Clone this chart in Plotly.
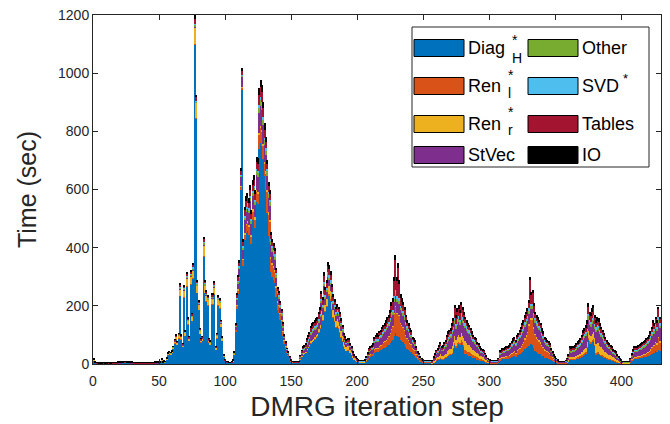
import plotly.graph_objects as go

# DMRG iteration steps
steps = list(range(1, 430))

# ---------------- series values (sec) ----------------
diag_h = (
    # steps 1-54
    [13.5, 3.5, 1.5, 1.5, 0.5, 0.5, 0.5, 1.5, 0.5, 0.5, 0.5, 1.5, 0.5, 0.5, 1.5, 1.5, 1.5, 1.5, 2.5,
     2.5, 2.5, 3.5, 3.5, 4.5, 4.5, 3.5, 3.5, 2.5, 2.5, 2.5,
     1.5, 1.5, 1.5, 1.5, 1.5, 1.5, 1.5, 1.5, 1.5, 1.5, 1.5, 1.5, 1.5, 1.5, 1.5, 1.5, 2.5, 2.5, 2.5, 2.5,
     3.5, 13.5, 3.5, 5.5]
    # steps 55-100
    + [6.8, 16.9, 32.1, 35.5, 33.8, 38, 52.4, 71.8, 84.5, 65.9, 88.7, 234, 84.5, 59.2, 229.8,
       97.2, 267.9, 135.2, 80.3, 272.9, 147.9, 292.4, 1100, 845, 244.2, 185.9, 103.9, 74.4, 80.3, 370.1,
       244.2, 214.6, 200.3, 74.4, 67.6, 205.3, 205.3, 239.1, 50.7, 88.7, 200.3, 191, 127.6, 79.4, 25.4, 11.8]
    # steps 101-152
    + [6, 5, 3.5, 3.5, 5, 9.5, 32, 110, 190, 239, 279, 598, 942, 336, 426, 450, 458, 445, 480, 413,
       494, 507, 468, 556, 551, 740, 761, 749, 704, 645, 600, 520, 440, 420, 318, 300, 290, 279, 231, 186,
       175, 150, 130, 98, 70, 53, 38, 29, 17, 9, 6, 4.5]
    # steps 153-205
    + [5, 4, 4, 5, 16, 26, 33, 36, 39, 48, 55, 61, 72, 77, 80, 85, 90, 95, 108, 122,
       165, 150, 215, 180, 198, 245, 236, 220, 186, 160, 146, 126, 130, 122, 108, 92, 77, 60, 52, 45,
       48, 48, 38, 32, 22, 16, 13, 10, 7, 6, 6, 6, 6]
    # steps 206-256
    + [5.5, 10, 16, 22, 24, 26, 28, 38, 40, 42, 40, 45, 47, 51, 54, 56, 60, 64, 66, 72,
       80, 84, 98, 105, 95, 98, 92, 82, 78, 74, 68, 59, 53, 49, 43, 41, 33, 31, 29, 21,
       15, 13, 9, 7, 5, 4.5, 4.5, 4.5, 4.5, 4.5, 4.5]
    # steps 257-306
    + [3, 6, 9, 12, 14, 16, 19, 15.5, 16, 19, 21, 25, 28, 30, 31, 35, 52, 66, 57, 65,
       70, 66, 75, 68, 60, 36, 33, 31, 29, 27, 25, 22, 21, 19, 17, 15.6, 13, 12, 11, 10.5,
       8, 6, 4.4, 3.7, 3, 2.6, 2.6, 2.6, 2.6, 2.6]
    # steps 307-358
    + [6, 13.5, 14.4, 15.6, 16, 17, 18, 18.6, 19.5, 21, 24, 26, 28, 25, 30, 32, 35, 38, 42, 45,
       50, 54, 57, 63, 71, 68, 65, 55, 45, 40, 38, 36, 33, 29, 26, 22, 21, 20, 18, 17,
       13, 10, 7.4, 6, 4.8, 3.4, 2.4, 2.2, 2.2, 2.2, 2.2, 3]
    # steps 359-406
    + [5, 7.8, 15, 14.5, 15, 15.5, 16, 17.8, 19.5, 21, 22, 25, 29, 31, 34, 55, 84, 72, 70, 76,
       80, 62, 33, 35, 35, 31, 28, 26, 23, 21, 18, 17, 15.6, 14.3, 13, 11, 10, 9.2, 6.8, 5.5,
       4.2, 3.1, 2.2, 2, 2, 2, 2, 2]
    # steps 407-429
    + [5.6, 10.4, 14, 16.8, 16.8, 17.4, 18.2, 19, 20, 21, 22.4, 23, 24.6, 26, 28, 31, 35, 40, 38, 43,
       40, 48, 43]
)

ren_l = (
    [0.2, 0.2, 0.2, 0.2, 0.2, 0.2, 0.2, 0.2, 0.2, 0.2, 0.2, 0.2, 0.2, 0.2, 0.2, 0.2, 0.2, 0.2,
     0.2, 0.2, 0.2, 0.2, 0.2, 0.2, 0.2, 0.2, 0.2, 0.2, 0.2, 0.2, 0.2, 0.2, 0.2, 0.2, 0.2, 0.2,
     0.2, 0.2, 0.2, 0.2, 0.2, 0.2, 0.2, 0.2, 0.2, 0.2, 0.2, 0.2, 0.2, 0.2, 0.2, 0.2, 0.2, 0.2]
    + [0.1, 0.1, 0.2, 0.2, 0.2, 0.2, 0.3, 0.4, 0.5, 0.4, 0.5, 1.4, 0.5, 0.4, 1.4, 0.6, 1.6, 0.8, 0.5, 1.6,
       0.9, 1.7, 0.5, 0.5, 1.4, 1.1, 0.6, 0.4, 0.5, 2.2, 1.4, 1.3, 1.2, 0.4, 0.4, 1.2, 1.2, 1.4, 0.3, 0.5,
       1.2, 1.1, 0.8, 0.5, 0.2, 0.1]
    + [0.5, 0.4, 0.3, 0.3, 0.4, 0.7, 2, 7, 12, 15, 18, 12, 10, 22, 20, 28, 30, 28, 30, 27,
       32, 33, 30, 36, 35, 47, 49, 48, 45, 41, 55, 70, 75, 70, 46, 43, 42, 40, 33, 27,
       25, 22, 19, 14, 10, 8, 5.5, 4, 2.5, 1.4, 1, 0.8]
    + [0.3, 0.2, 0.2, 0.3, 0.5, 0.6, 0.7, 0.8, 0.8, 1, 1, 1, 1.3, 1.4, 1.5, 1.5, 1.5, 1.6, 1.8, 2,
       2.5, 2.3, 3, 2.7, 3, 3.5, 3.4, 3.2, 2.8, 2.4, 2.2, 2, 2, 2, 1.8, 1.6, 1.3, 1, 1, 0.8,
       0.9, 0.9, 0.7, 0.6, 0.4, 0.3, 0.3, 0.2, 0.2, 0.2, 0.2, 0.2, 0.2]
    + [2, 3.5, 5.6, 7.7, 8.4, 9, 10, 13, 14, 15, 14, 16, 16, 18, 19, 20, 22, 24, 27, 32,
       40, 44, 75, 92, 80, 90, 75, 58, 54, 50, 46, 39, 34, 31, 27, 26, 21, 19, 18, 13,
       9, 8, 5.5, 4, 3, 2.5, 2.5, 2.5, 2.5, 2.5, 2.5]
    + [0.4, 0.8, 1, 1.4, 1.6, 2, 2.3, 1.9, 2, 2.2, 2.5, 3, 3.4, 3.5, 3.7, 4.2, 4.7, 6, 5, 5.7,
       6, 5.6, 6.4, 6, 6, 13, 12, 11, 11, 10, 9, 8, 7.5, 7, 6, 5.7, 4.8, 4.3, 4, 3.8,
       3, 2.2, 1.6, 1.4, 1.1, 1, 1, 1, 1, 1]
    + [3, 6.8, 7.2, 7.8, 8, 8.5, 9, 9.3, 9.8, 10.5, 12, 13, 14, 12.5, 15, 17, 19, 22, 25, 29,
       35, 42, 50, 70, 95, 85, 88, 68, 55, 48, 45, 42, 39, 34, 31, 26, 24, 23, 21, 19.6,
       15, 11.6, 8.5, 6.9, 5.5, 3.9, 2.8, 2.5, 2.5, 2.5, 2.5, 3.3]
    + [1.2, 1.9, 3.6, 3.5, 3.6, 3.7, 3.9, 4.3, 4.7, 5, 5.3, 6, 7, 7.5, 8, 5, 6, 5.4, 5, 5.7,
       6, 5, 4.5, 4.8, 4.7, 4.2, 3.8, 3.5, 3.2, 2.8, 2.5, 2.3, 2.1, 2, 1.8, 1.5, 1.4, 1.3, 0.9, 0.8,
       0.6, 0.4, 0.3, 0.3, 0.3, 0.3, 0.3, 0.3]
    + [2.4, 4.4, 6, 7.2, 7.2, 7.4, 7.8, 8.2, 8.5, 9, 9.6, 10.5, 11.4, 13, 14, 17, 21, 27, 24, 31,
       28, 42, 32]
)

ren_r = (
    [0.4, 0.4, 0.4, 0.4, 0.4, 0.4, 0.4, 0.4, 0.4, 0.4, 0.4, 0.4, 0.4, 0.4, 0.4, 0.4, 0.4, 0.4,
     0.4, 0.4, 0.4, 0.4, 0.4, 0.4, 0.4, 0.4, 0.4, 0.4, 0.4, 0.4, 0.4, 0.4, 0.4, 0.4, 0.4, 0.4,
     0.4, 0.4, 0.4, 0.4, 0.4, 0.4, 0.4, 0.4, 0.4, 0.4, 0.4, 0.4, 0.4, 0.4, 0.4, 0.4, 0.4, 0.4]
    + [0.6, 1.6, 3, 3.4, 3.2, 3.6, 5, 6.8, 8, 6.2, 8.4, 22.2, 8, 5.6, 21.8, 9.2, 25.4, 12.8, 7.6, 25.8,
       14, 27.7, 57, 52, 23.1, 17.6, 9.8, 7, 7.6, 35, 23.1, 20.3, 19, 7, 6.4, 19.4, 19.4, 22.6, 4.8, 8.4,
       19, 18.1, 12.1, 7.5, 2.4, 1.1]
    + [0.3, 0.2, 0.2, 0.2, 0.2, 0.3, 0.5, 1, 2, 3, 3, 3, 2, 4, 4, 5, 5, 5, 6, 5,
       6, 6, 6, 7, 7, 9, 9, 9, 9, 8, 8, 7, 6, 6, 5, 4, 4, 4, 3, 3,
       3, 2, 2, 2, 1, 1, 1, 0.5, 0.4, 0.3, 0.2, 0.2]
    + [0.5, 0.4, 0.4, 0.5, 1, 2, 2.5, 2.5, 3, 3.5, 4, 4.5, 5, 5.6, 6, 6, 7, 8, 9, 11,
       16, 15, 24, 20, 23, 29, 28, 27, 24, 23, 22, 21, 22, 22, 22, 20, 18, 15, 14, 12,
       13, 13, 11, 9, 6.5, 5, 4, 3, 2.2, 1.8, 1.8, 1.8, 1.8]
    + [0.2, 0.3, 0.4, 0.5, 0.6, 0.7, 0.7, 1, 1, 1, 1, 1, 1.2, 1.3, 1.3, 1.4, 1.5, 1.6, 1.7, 1.9,
       2, 2, 2, 2, 2, 2, 2, 2, 2, 2, 2, 1.7, 1.5, 1.4, 1.2, 1.2, 1, 0.9, 0.8, 0.6,
       0.4, 0.4, 0.3, 0.2, 0.2, 0.2, 0.2, 0.2, 0.2, 0.2, 0.2]
    + [1.8, 3.8, 5, 7, 8, 10, 11.5, 9.3, 10, 11, 12.5, 15, 17, 18, 18.5, 21, 19, 24, 20, 23,
       24, 22, 26, 24, 24, 29, 27, 25, 24, 22, 20, 18, 17, 16, 14, 12.8, 11, 9.7, 9, 8.6,
       6.7, 5, 3.6, 3, 2.5, 2.2, 2.2, 2.2, 2.2, 2.2]
    + [0.4, 0.9, 1, 1, 1.1, 1.1, 1.2, 1.2, 1.3, 1.4, 1.6, 1.8, 1.9, 1.7, 2, 2.2, 2.3, 2.6, 2.8, 3,
       3.4, 3.6, 3.8, 4, 4, 4, 4, 3.5, 3.6, 3.4, 3.2, 3, 2.8, 2.5, 2.2, 1.9, 1.8, 1.7, 1.5, 1.4,
       1.1, 0.8, 0.6, 0.5, 0.4, 0.3, 0.2, 0.2, 0.2, 0.2, 0.2, 0.2]
    + [2, 3.1, 6, 5.8, 6, 6.2, 6.5, 7.1, 7.8, 8.3, 8.8, 10, 11.7, 12.5, 13.4, 17, 25, 22, 21, 23,
       25, 22, 30, 32, 31, 28, 26, 23, 21, 19, 17, 15, 14, 13, 12, 10, 9, 8.4, 6.2, 5,
       3.8, 2.8, 2, 1.8, 1.8, 1.8, 1.8, 1.8]
    + [0.4, 0.7, 1, 1.2, 1.2, 1.2, 1.3, 1.4, 1.4, 1.5, 1.6, 1.7, 1.8, 1.9, 2, 2.2, 2.6, 3, 2.8, 3.3,
       3, 4, 3.3]
)

st_vec = (
    [0.5, 0.5, 0.5, 0.5, 0.5, 0.5, 0.5, 0.5, 0.5, 0.5, 0.5, 0.5, 0.5, 0.5, 0.5, 0.5, 0.5, 0.5,
     0.5, 0.5, 0.5, 0.5, 0.5, 0.5, 0.5, 0.5, 0.5, 0.5, 0.5, 0.5, 0.5, 0.5, 0.5, 0.5, 0.5, 0.5,
     0.5, 0.5, 0.5, 0.5, 0.5, 0.5, 0.5, 0.5, 0.5, 0.5, 0.5, 0.5, 0.5, 0.5, 0.5, 0.5, 0.5, 0.5]
    + [0.1, 0.2, 0.4, 0.4, 0.4, 0.5, 0.6, 0.9, 1, 0.8, 1.1, 2.8, 1, 0.7, 2.7, 1.2, 3.2, 1.6, 1, 3.2,
       1.8, 3.5, 3, 2, 2.9, 2.2, 1.2, 0.9, 1, 4.4, 2.9, 2.5, 2.4, 0.9, 0.8, 2.4, 2.4, 2.8, 0.6, 1.1,
       2.4, 2.3, 1.5, 0.9, 0.3, 0.1]
    + [0.8, 0.6, 0.5, 0.5, 0.6, 1, 3, 10, 17, 21, 25, 30, 35, 30, 45, 40, 41, 40, 43, 37,
       44, 45, 42, 50, 50, 66, 68, 67, 63, 58, 55, 50, 50, 48, 41, 39, 37, 36, 30, 24,
       22, 19, 17, 13, 9, 7, 5, 4, 2.3, 1.3, 1, 0.8]
    + [1.5, 1.2, 1.2, 1.5, 6, 9, 11, 12, 13, 16, 18, 20, 24, 25, 26, 26, 25, 25, 25, 25,
       26, 24, 25, 22, 22, 23, 22, 22, 21, 20, 20, 19, 20, 20, 20, 18, 16, 13, 12, 11,
       11, 11, 9, 8, 5.5, 4, 3.2, 2.4, 1.8, 1.5, 1.5, 1.5, 1.5]
    + [3, 5.5, 8.8, 12, 13, 14, 16, 21, 22, 23, 22, 24, 26, 28, 29, 31, 33, 34, 35, 37,
       40, 40, 38, 34, 36, 36, 38, 42, 40, 40, 37, 33, 30, 28, 25, 23, 19, 18, 17, 12,
       8.4, 7.4, 5, 3.8, 2.8, 2.4, 2.4, 2.4, 2.4, 2.4, 2.4]
    + [3.6, 7.5, 10.5, 14.5, 16.5, 19.5, 23, 18.6, 19.5, 22.5, 25, 30, 33.5, 35, 37, 42, 37, 43, 39, 42,
       44, 41, 45, 43, 41, 46, 42, 39, 38, 34, 31, 28, 26, 25, 21.5, 20, 17, 15, 14, 13.4,
       10.4, 7.8, 5.6, 4.8, 3.9, 3.4, 3.4, 3.4, 3.4, 3.4]
    + [5.6, 12.6, 13.4, 14.6, 15, 16, 16.8, 17.4, 18.2, 19.6, 22.4, 24.6, 26.3, 23.2, 28, 30, 32, 34, 36, 37,
       39, 38, 36, 34, 32, 32, 32, 33, 37, 39, 38, 36, 34, 30, 27, 23, 21, 20, 19, 17,
       13, 10, 7.5, 6, 4.8, 3.4, 2.4, 2.2, 2.2, 2.2, 2.2, 2.9]
    + [6, 9.3, 18, 17.4, 18, 18.6, 19.5, 21.3, 23.4, 25, 26.4, 30, 35, 37.5, 40, 30, 37, 33, 32, 34,
       36, 33, 42, 45, 44, 39, 36, 33, 30, 26, 23, 21.5, 20, 18, 17, 14, 12.6, 11.8, 8.7, 7,
       5.3, 3.9, 2.8, 2.5, 2.5, 2.5, 2.5, 2.5]
    + [6, 11, 15, 18, 18, 18.6, 19.5, 20.4, 21.3, 22.5, 24, 24.9, 26.4, 28, 30, 33, 37, 42, 40, 44,
       41, 46, 44]
)

other = (
    [0.5, 0.5, 0.5, 0.5, 0.5, 0.5, 0.5, 0.5, 0.5, 0.5, 0.5, 0.5, 0.5, 0.5, 0.5, 0.5, 0.5, 0.5,
     0.5, 0.5, 0.5, 0.5, 0.5, 0.5, 0.5, 0.5, 0.5, 0.5, 0.5, 0.5, 0.5, 0.5, 0.5, 0.5, 0.5, 0.5,
     0.5, 0.5, 0.5, 0.5, 0.5, 0.5, 0.5, 0.5, 0.5, 0.5, 0.5, 0.5, 0.5, 0.5, 0.5, 0.5, 0.5, 0.5]
    + [0.1, 0.2, 0.5, 0.5, 0.5, 0.5, 0.7, 1, 1.2, 0.9, 1.3, 3.3, 1.2, 0.8, 3.3, 1.4, 3.8, 1.9, 1.1, 3.9,
       2.1, 4.2, 6, 3, 3.5, 2.6, 1.5, 1.1, 1.1, 5.3, 3.5, 3, 2.8, 1.1, 1, 2.9, 2.9, 3.4, 0.7, 1.3,
       2.8, 2.7, 1.8, 1.1, 0.4, 0.2]
    + [0.5, 0.4, 0.3, 0.3, 0.4, 0.5, 1, 3, 5, 6, 7, 5, 2, 9, 10, 12, 12, 11, 12, 11,
       13, 13, 12, 14, 14, 19, 20, 19, 18, 17, 16, 15, 15, 14, 14, 13, 12, 12, 10, 8,
       8, 6, 6, 4, 3, 2, 1.5, 1.2, 0.8, 0.5, 0.4, 0.3]
    + [0.5, 0.4, 0.4, 0.5, 1.2, 2, 2.5, 2.6, 2.8, 3.5, 4, 4.5, 5, 5.6, 5.8, 6, 6, 6, 6.5, 7,
       8, 7.5, 9, 8, 8.5, 9.5, 9, 9, 8, 7.5, 7, 6.5, 7, 7, 6.5, 6, 5, 4, 3.6, 3.2,
       3.4, 3.4, 2.7, 2.3, 1.6, 1.2, 1, 0.7, 0.5, 0.5, 0.5, 0.5, 0.5]
    + [0.7, 1.2, 2, 2.8, 3, 3.3, 3.5, 4.7, 5, 5.3, 5, 5.6, 5.8, 6.4, 6.7, 7, 7.5, 8, 8.4, 9,
       10, 10, 12, 12, 12, 12, 11, 10, 10, 9.5, 9, 8, 7.5, 7, 6, 6, 4.7, 4.4, 4, 3,
       2, 1.8, 1.2, 0.9, 0.7, 0.6, 0.6, 0.6, 0.6, 0.6, 0.6]
    + [0.7, 1.5, 2.1, 2.9, 3.3, 4, 4.6, 3.7, 4, 4.5, 5, 6, 6.7, 7, 7.4, 8.4, 9.4, 12, 10, 11.5,
       12, 11, 13, 12, 11, 10, 9, 8.4, 8, 7.4, 6.7, 6, 5.6, 5.3, 4.6, 4.3, 3.6, 3.2, 3, 2.9,
       2.2, 1.7, 1.2, 1, 0.8, 0.7, 0.7, 0.7, 0.7, 0.7]
    + [1.2, 2.7, 2.9, 3.1, 3.2, 3.4, 3.6, 3.7, 3.9, 4.2, 4.8, 5.3, 5.6, 5, 6, 6.5, 7, 7.7, 8.4, 9,
       10, 10.8, 11.5, 12, 12, 11, 11, 10, 10, 9.5, 9, 8.5, 8, 7, 6.4, 5.4, 5, 4.7, 4.4, 4,
       3, 2.4, 1.8, 1.4, 1.1, 0.8, 0.6, 0.5, 0.5, 0.5, 0.5, 0.7]
    + [1.4, 2.2, 4.2, 4, 4.2, 4.3, 4.6, 5, 5.5, 5.8, 6.2, 7, 8.2, 8.8, 9.4, 9, 12.5, 11, 10.5, 11.5,
       12, 10, 10.6, 11, 11, 9.8, 9, 8.2, 7.4, 6.6, 5.8, 5.4, 5, 4.6, 4.2, 3.5, 3.2, 2.9, 2.2, 1.8,
       1.3, 1, 0.7, 0.6, 0.6, 0.6, 0.6, 0.6]
    + [1.4, 2.6, 3.5, 4.2, 4.2, 4.3, 4.6, 4.8, 5, 5.3, 5.6, 5.8, 6.2, 6.6, 7, 7.8, 9, 10.5, 9.8, 11.4,
       10.5, 13, 11.4]
)

svd = (
    [0.3, 0.3, 0.3, 0.3, 0.3, 0.3, 0.3, 0.3, 0.3, 0.3, 0.3, 0.3, 0.3, 0.3, 0.3, 0.3, 0.3, 0.3,
     0.3, 0.3, 0.3, 0.3, 0.3, 0.3, 0.3, 0.3, 0.3, 0.3, 0.3, 0.3, 0.3, 0.3, 0.3, 0.3, 0.3, 0.3,
     0.3, 0.3, 0.3, 0.3, 0.3, 0.3, 0.3, 0.3, 0.3, 0.3, 0.3, 0.3, 0.3, 0.3, 0.3, 0.3, 0.3, 0.3]
    + [0.1, 0.1, 0.3, 0.3, 0.3, 0.3, 0.4, 0.6, 0.7, 0.5, 0.7, 1.9, 0.7, 0.5, 1.9, 0.8, 2.2, 1.1, 0.7, 2.3,
       1.2, 2.4, 4, 2, 2, 1.5, 0.9, 0.6, 0.7, 3.1, 2, 1.8, 1.7, 0.6, 0.6, 1.7, 1.7, 2, 0.4, 0.7,
       1.7, 1.6, 1.1, 0.7, 0.2, 0.1]
    + [0.3, 0.2, 0.2, 0.2, 0.2, 0.3, 0.5, 1.5, 2.5, 3, 3.5, 3, 2, 4, 5, 6, 6, 6, 6, 5,
       6, 7, 6, 7, 7, 9, 10, 10, 9, 8, 8, 7, 7, 6, 7, 6, 6, 6, 5, 4,
       4, 3, 3, 2, 1.5, 1, 1, 0.6, 0.4, 0.3, 0.2, 0.2]
    + [0.4, 0.3, 0.3, 0.4, 1, 1.5, 2, 2, 2.2, 2.6, 3, 3.3, 4, 4.2, 4.3, 4.5, 4.5, 4.5, 5, 5,
       5.5, 5, 6, 5, 5.5, 6.5, 6, 6, 5, 5, 4.8, 4.5, 4.5, 4.5, 4.2, 3.8, 3.3, 2.7, 2.4, 2.1,
       2.2, 2.2, 1.8, 1.5, 1.1, 0.8, 0.6, 0.5, 0.4, 0.3, 0.3, 0.3, 0.3]
    + [0.4, 0.8, 1.2, 1.6, 1.8, 2, 2.1, 2.8, 3, 3.2, 3, 3.4, 3.5, 3.8, 4, 4.2, 4.5, 4.8, 5, 5.5,
       6.4, 6.8, 8, 8, 8, 8, 8, 7, 7, 6.5, 6, 5, 4.5, 4.2, 3.7, 3.5, 2.8, 2.6, 2.5, 1.8,
       1.3, 1.1, 0.8, 0.6, 0.4, 0.3, 0.3, 0.3, 0.3, 0.3, 0.3]
    + [0.5, 1, 1.4, 1.9, 2.2, 2.6, 3, 2.5, 2.6, 3, 3.3, 4, 4.5, 4.7, 4.9, 5.6, 6.3, 8, 7, 7.6,
       8, 7.4, 8.6, 8, 7, 6.5, 6, 5.6, 5.4, 4.9, 4.5, 4, 3.8, 3.5, 3, 2.8, 2.4, 2.2, 2, 1.9,
       1.5, 1.1, 0.8, 0.7, 0.6, 0.5, 0.5, 0.5, 0.5, 0.5]
    + [0.8, 1.8, 1.9, 2.1, 2.2, 2.3, 2.4, 2.5, 2.6, 2.8, 3.2, 3.5, 3.8, 3.3, 4, 4.3, 4.7, 5, 5.6, 6,
       6.7, 7.2, 7.6, 8, 8, 8, 8, 7, 7, 6.7, 6.4, 6, 5.6, 5, 4.5, 3.8, 3.5, 3.3, 3, 2.8,
       2.2, 1.7, 1.2, 1, 0.8, 0.6, 0.4, 0.4, 0.4, 0.4, 0.4, 0.5]
    + [0.8, 1.2, 2.4, 2.3, 2.4, 2.5, 2.6, 2.8, 3.1, 3.3, 3.5, 4, 4.7, 5, 5.4, 6, 8.4, 7.2, 7, 7.6,
       8, 6.7, 6, 6.4, 6.3, 5.6, 5, 4.7, 4.2, 3.8, 3.3, 3.1, 2.8, 2.6, 2.4, 2, 1.8, 1.7, 1.2, 1,
       0.8, 0.6, 0.4, 0.4, 0.4, 0.4, 0.4, 0.4]
    + [0.8, 1.5, 2, 2.4, 2.4, 2.5, 2.6, 2.7, 2.8, 3, 3.2, 3.3, 3.5, 3.8, 4, 4.5, 5, 6, 5.6, 6.5,
       6, 8, 6.5]
)

tables = (
    [0.5, 0.5, 0.5, 0.5, 0.5, 0.5, 0.5, 0.5, 0.5, 0.5, 0.5, 0.5, 0.5, 0.5, 0.5, 0.5, 0.5, 0.5,
     0.5, 0.5, 0.5, 0.5, 0.5, 0.5, 0.5, 0.5, 0.5, 0.5, 0.5, 0.5, 0.5, 0.5, 0.5, 0.5, 0.5, 0.5,
     0.5, 0.5, 0.5, 0.5, 0.5, 0.5, 0.5, 0.5, 0.5, 0.5, 0.5, 0.5, 0.5, 0.5, 0.5, 0.5, 0.5, 0.5]
    + [0.2, 0.5, 1, 1.1, 1, 1.2, 1.6, 2.2, 2.6, 2, 2.7, 7.2, 2.6, 1.8, 7.1, 3, 8.2, 4.2, 2.5, 8.4,
       4.6, 9, 17, 14, 7.5, 5.7, 3.2, 2.3, 2.5, 11.4, 7.5, 6.6, 6.2, 2.3, 2.1, 6.3, 6.3, 7.4, 1.6, 2.7,
       6.2, 5.9, 3.9, 2.4, 0.8, 0.4]
    + [0.6, 0.5, 0.4, 0.4, 0.5, 0.8, 2, 5, 9, 11, 13, 14, 16, 15, 18, 20, 20, 20, 22, 19,
       22, 23, 21, 25, 25, 34, 34, 34, 32, 29, 22, 18, 20, 22, 14, 15, 14, 13, 11, 8,
       8, 8, 6, 5, 3.5, 3, 2, 1.5, 1, 0.6, 0.5, 0.5]
    + [0.8, 0.7, 0.7, 0.8, 2.5, 4, 5, 5.5, 6, 8, 9, 10, 12, 13, 13, 13.5, 14, 14, 15, 15,
       17, 16, 21, 17, 18, 22, 22, 20, 17, 14, 12, 10, 11, 11, 10, 9, 8, 6, 5, 5,
       5.5, 5.5, 4.5, 4, 3, 2.2, 1.7, 1.2, 0.9, 0.8, 0.8, 0.8, 0.8]
    + [1.3, 2.2, 3.6, 5, 5.4, 6, 6.4, 8, 9, 10, 9, 10, 10.5, 12, 12, 12.6, 14, 14, 15, 17,
       22, 25, 52, 105, 52, 84, 49, 25, 22, 20, 18, 15, 12, 11, 10, 9.5, 7.5, 7, 6.6, 5,
       3.4, 3, 2, 1.5, 1.1, 0.9, 0.9, 0.9, 0.9, 0.9, 0.9]
    + [1.2, 2.5, 3.5, 5, 5.5, 6.5, 8, 6.2, 6.5, 7.5, 8, 10, 11, 12, 12, 14, 18, 32, 21, 24,
       26, 21, 28, 24, 19, 13, 12, 11, 11, 10, 9, 8, 7.5, 7, 6, 5.7, 4.8, 4.3, 4, 3.8,
       3, 2.2, 1.6, 1.4, 1.1, 0.9, 0.9, 0.9, 0.9, 0.9]
    + [1.8, 4, 4.3, 4.7, 4.9, 5.1, 5.4, 5.6, 5.8, 6.3, 7.2, 8, 8.5, 7.5, 9, 9.7, 10.5, 11.5, 12.6, 13.6,
       15, 15, 15, 19, 66, 30, 36, 22, 13, 13, 12.4, 11.5, 10.6, 9.3, 8.5, 7.2, 6.7, 6.3, 6, 5.4,
       4.1, 3.2, 2.4, 1.9, 1.5, 1, 0.7, 0.6, 0.6, 0.6, 0.6, 0.8]
    + [2, 3.1, 6, 5.8, 6, 6.2, 6.5, 7.1, 7.8, 8.3, 8.8, 10, 11.7, 12.5, 13.4, 17, 24, 19, 19, 21,
       24, 18, 14, 15, 14, 12.6, 11.5, 10.5, 9.5, 8.5, 7.5, 7, 6.4, 5.9, 5.4, 4.5, 4, 3.8, 2.8, 2.3,
       1.7, 1.3, 0.9, 0.8, 0.8, 0.8, 0.8, 0.8]
    + [2, 3.7, 5, 6, 6, 6.2, 6.5, 6.8, 7.1, 7.5, 8, 8.3, 8.8, 9.4, 10, 11, 12, 14, 13, 15,
       14, 27, 14]
)

io = (
    [2.5, 2.5, 2.5, 2.5, 2.5, 2.5, 2.5, 2.5, 2.5, 2.5, 2.5, 2.5, 2.5, 2.5, 2.5, 2.5, 2.5, 2.5,
     2.5, 2.5, 2.5, 2.5, 2.5, 2.5, 2.5, 2.5, 2.5, 2.5, 2.5, 2.5, 2.5, 2.5, 2.5, 2.5, 2.5, 2.5,
     2.5, 2.5, 2.5, 2.5, 2.5, 2.5, 2.5, 2.5, 2.5, 2.5, 2.5, 2.5, 2.5, 2.5, 2.5, 2.5, 2.5, 2.5]
    + [2, 1.5, 0.6, 0.6, 0.6, 0.7, 0.9, 1.3, 1.5, 1.2, 1.6, 4.2, 1.5, 1.1, 4.1, 1.7, 4.8, 2.4, 1.4, 4.8,
       2.6, 5.2, 12, 6, 4.3, 3.3, 1.8, 1.3, 1.4, 6.6, 4.3, 3.8, 3.6, 1.3, 1.2, 3.6, 3.6, 4.2, 0.9, 1.6,
       3.6, 3.4, 2.3, 1.4, 1.5, 2]
    + [1, 0.7, 0.6, 0.6, 0.7, 0.9, 1, 3.5, 5.5, 8, 8.5, 8, 8, 10, 13, 15, 15, 15, 16, 13,
       16, 16, 15, 18, 18, 24, 25, 24, 22, 21, 18, 13, 14, 14, 10, 10, 10, 9, 7, 6,
       5, 5, 3, 3, 2, 2, 1, 1.2, 0.6, 0.6, 0.7, 0.7]
    + [1, 0.8, 0.8, 1, 1.8, 3, 3.3, 3.6, 4.2, 5.4, 6, 6.7, 7.7, 8.2, 8.4, 8.5, 9, 9, 9.7, 10,
       12, 10, 14, 11, 11, 13.5, 13.6, 12.8, 11.2, 9.1, 9, 8, 8.5, 8.5, 7.5, 6.6, 5.4, 4.3, 4, 3.9,
       4, 4, 3.3, 2.6, 1.9, 1.5, 1.2, 1, 1, 0.9, 0.9, 0.9, 0.9]
    + [0.9, 1.5, 2.4, 3.4, 3.8, 4, 4.3, 5.5, 6, 6.5, 6, 7, 7, 7.5, 8, 7.8, 8.5, 9.6, 10, 11.6,
       13.6, 14.2, 15, 17, 15, 16, 14, 14, 13, 12, 11, 9.3, 8, 8.4, 7.1, 6.8, 5, 5.1, 5.1, 3.6,
       2.5, 2.3, 1.2, 1, 0.8, 0.6, 0.6, 0.6, 0.6, 0.6, 0.6]
    + [0.8, 1.9, 2.5, 3.3, 3.9, 4.4, 5.6, 4.3, 4.4, 5.3, 5.7, 7, 7.9, 7.8, 8.5, 9.8, 10.6, 12, 11, 12.2,
       13, 12, 12, 12, 12, 9.5, 10, 9, 7.6, 7.7, 6.8, 6, 5.6, 5.2, 4.9, 4.1, 3.4, 3.3, 3, 3.1,
       2.2, 2, 1.2, 1, 1, 0.7, 0.7, 0.7, 0.7, 0.7]
    + [1.2, 2.7, 2.9, 3.1, 3.6, 3.6, 3.6, 3.7, 3.9, 4.2, 4.8, 5.8, 5.9, 4.8, 6, 6.3, 6.5, 7.2, 7.6, 8.4,
       8.9, 9.4, 10.1, 10, 12, 11, 11, 10.5, 9.4, 8.4, 8, 8, 7, 6.2, 6.4, 4.7, 5, 4, 4.1, 3.8,
       2.6, 2.3, 1.6, 1.3, 1.1, 0.6, 0.5, 0.4, 0.4, 0.4, 0.4, 0.6]
    + [1.6, 2.4, 4.8, 4.7, 4.8, 5, 5.4, 5.6, 6.2, 6.3, 7, 8, 9.7, 10.2, 10.4, 12, 12, 10.4, 10.5, 12.2,
       12, 11.3, 10.9, 10.8, 11, 9.8, 8.7, 8.1, 7.7, 6.3, 5.9, 5.7, 5.1, 4.6, 4.2, 3.5, 3, 2.9, 2.2, 1.6,
       1.3, 0.9, 0.7, 0.6, 0.6, 0.6, 0.6, 0.6]
    + [1.4, 2.7, 3.5, 4.2, 4.2, 4.4, 4.5, 4.7, 4.9, 5.2, 5.6, 5.5, 5.3, 5.3, 5, 5.5, 6.4, 8.5, 6.8, 8.8,
       7.5, 9, 8.8]
)

series_names = ["Diag_H*", "Ren_l*", "Ren_r*", "StVec", "Other", "SVD*", "Tables", "IO"]
series_values = [diag_h, ren_l, ren_r, st_vec, other, svd, tables, io]
series_colors = ["#0072BD", "#D95319", "#EDB120", "#7E2F8E", "#77AC30", "#4DBEEE", "#A2142F", "#000000"]

x_tick_vals = [0, 50, 100, 150, 200, 250, 300, 350, 400]
y_tick_vals = [0, 200, 400, 600, 800, 1000, 1200]

# ---------------- figure ----------------
fig = go.Figure()
for name, vals, col in zip(series_names, series_values, series_colors):
    fig.add_trace(go.Bar(x=steps, y=vals, name=name, marker=dict(color=col, line=dict(width=0)),
                         showlegend=False))

AX = "#262626"
FONT = "Liberation Sans, Arial, sans-serif"
L, R, T, B = 93, 661, 15, 364


def px(x):
    return (x - L) / (R - L)


def py(y):
    return (B - y) / (B - T)


fig.update_layout(
    width=670, height=424,
    margin=dict(l=L, r=670 - R, t=T, b=424 - B, autoexpand=False),
    paper_bgcolor="white", plot_bgcolor="white",
    barmode="stack", bargap=0,
    font=dict(family=FONT, color=AX, size=14),
)
fig.update_xaxes(range=[0, 430], tickvals=x_tick_vals, ticks="inside", ticklen=5, tickwidth=1,
                 tickcolor=AX, showline=True, linecolor=AX, linewidth=1, mirror="ticks",
                 showgrid=False, zeroline=False, tickfont=dict(size=14, color=AX),
                 ticklabelstandoff=4, automargin=False,
                 title=dict(text="DMRG iteration step", font=dict(size=28, color=AX), standoff=8))
fig.update_yaxes(range=[0, 1200], tickvals=y_tick_vals, ticks="inside", ticklen=5, tickwidth=1,
                 tickcolor=AX, showline=True, linecolor=AX, linewidth=1, mirror="ticks",
                 showgrid=False, zeroline=False, tickfont=dict(size=14, color=AX), automargin=False,
                 title=dict(text="Time (sec)", font=dict(size=25, color=AX), standoff=14))

# ---------------- legend (2 columns, MATLAB style) ----------------
shapes = [dict(type="rect", xref="paper", yref="paper", x0=px(412), x1=px(649), y0=py(167), y1=py(27),
               line=dict(color=AX, width=1), fillcolor="white", layer="above")]
ann = []
rows = [48, 86, 124, 155]
cols = [(414, 466), (528, 580)]
legend_items = [
    (0, 0, 0, "Diag"), (0, 1, 1, "Ren"), (0, 2, 2, "Ren"), (0, 3, 3, "StVec"),
    (1, 0, 4, "Other"), (1, 1, 5, "SVD"), (1, 2, 6, "Tables"), (1, 3, 7, "IO"),
]
for c, r, idx, label in legend_items:
    sx, tx = cols[c]
    yc = rows[r]
    shapes.append(dict(type="rect", xref="paper", yref="paper", x0=px(sx), x1=px(sx + 50),
                       y0=py(yc + 8.5), y1=py(yc - 8.5), line=dict(color="black", width=1),
                       fillcolor=series_colors[idx], layer="above"))
    ann.append(dict(x=px(tx), y=py(yc), xref="paper", yref="paper", text=label, showarrow=False,
                    xanchor="left", yanchor="middle", font=dict(size=18, color="black", family=FONT)))

# stacked superscript / subscript parts of the legend labels
stacked = [("*<br>H", 510, 49), ("*<br>l", 506, 84), ("*<br>r", 506, 121)]
for t, x, y in stacked:
    ann.append(dict(x=px(x), y=py(y), xref="paper", yref="paper", text=t, showarrow=False,
                    xanchor="left", yanchor="middle", align="left",
                    font=dict(size=14, color="black", family=FONT)))
ann.append(dict(x=px(621), y=py(79), xref="paper", yref="paper", text="*", showarrow=False,
                xanchor="left", yanchor="middle", font=dict(size=13, color="black", family=FONT)))

fig.update_layout(shapes=shapes, annotations=ann)

# remove the default page margin so the figure sits at the window's top-left corner
fig.write_html("out.html", config={"displayModeBar": False},
               post_script="document.body.style.margin='0';")
